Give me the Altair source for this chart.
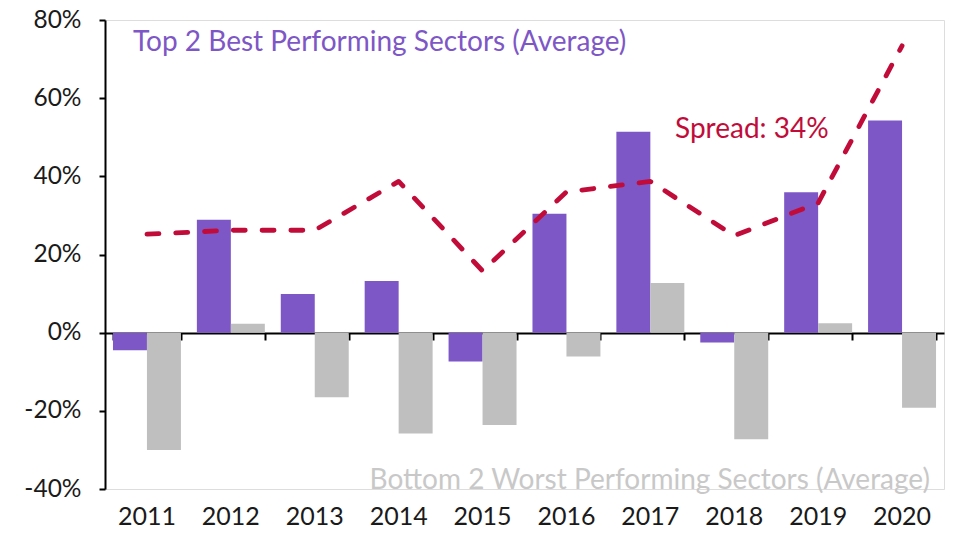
import altair as alt
import pandas as pd

years = ["2011", "2012", "2013", "2014", "2015", "2016", "2017", "2018", "2019", "2020"]
top2 = [-4.5, 28.9, 9.9, 13.2, -7.4, 30.4, 51.4, -2.5, 35.9, 54.3]
bottom2 = [-30.0, 2.3, -16.5, -25.8, -23.6, -6.1, 12.7, -27.3, 2.4, -19.2]
spread = [25.2, 26.2, 26.2, 38.7, 15.8, 36.0, 38.7, 24.8, 33.2, 73.4]

series_names = ["Top 2", "Bottom 2"]
PURPLE = "#7E57C6"
GRAY = "#BEBFBE"
CRIMSON = "#C10C3A"
FONT = "Lato"

bars_df = pd.DataFrame(
    [{"year": y, "series": series_names[0], "value": v} for y, v in zip(years, top2)]
    + [{"year": y, "series": series_names[1], "value": v} for y, v in zip(years, bottom2)]
)
line_df = pd.DataFrame({"year": years, "spread": spread})

PLOT_H = 469
y_scale = alt.Scale(domain=[-40, 80], nice=False, zero=False)
y_axis = alt.Axis(
    values=[-40, -20, 0, 20, 40, 60, 80],
    labelExpr="datum.value + '%'",
    grid=False,
    domain=True,
    domainColor="#000000",
    domainWidth=2,
    ticks=True,
    tickColor="#000000",
    tickWidth=2,
    tickSize=6,
    labelPadding=18,
    labelFont=FONT,
    labelFontSize=24.5,
    labelColor="#1a1a1a",
    title=None,
)
x_scale = alt.Scale(paddingInner=0.19, paddingOuter=0.095)

bars = alt.Chart(bars_df).mark_bar().encode(
    x=alt.X(
        "year:N",
        sort=years,
        scale=x_scale,
        axis=alt.Axis(
            orient="bottom",
            domain=False,
            ticks=False,
            labelAngle=0,
            labelPadding=15,
            labelFont=FONT,
            labelFontSize=25,
            labelColor="#1a1a1a",
            title=None,
        ),
    ),
    xOffset=alt.XOffset("series:N", sort=series_names, scale=alt.Scale(paddingInner=0, paddingOuter=0)),
    y=alt.Y("value:Q", scale=y_scale, axis=y_axis),
    color=alt.Color(
        "series:N",
        scale=alt.Scale(domain=series_names, range=[PURPLE, GRAY]),
        legend=None,
    ),
)

line = alt.Chart(line_df).mark_line(
    color=CRIMSON, strokeWidth=4.8, strokeDash=[12, 16.8], strokeCap="round", strokeJoin="round"
).encode(
    x=alt.X(
        "year:N",
        sort=years,
        scale=x_scale,
        axis=alt.Axis(
            orient="bottom",
            offset=-round(PLOT_H * 40 / 120),
            labels=False,
            domain=True,
            domainColor="#000000",
            domainWidth=2,
            ticks=True,
            tickBand="extent",
            tickColor="#000000",
            tickWidth=2,
            tickSize=7,
            grid=False,
            title=None,
        ),
    ),
    y=alt.Y("spread:Q", scale=y_scale, axis=y_axis),
)

top_label = alt.Chart(pd.DataFrame({"t": ["Top 2 Best Performing Sectors (Average)"]})).mark_text(
    align="left", baseline="alphabetic", font=FONT, fontSize=28, color=PURPLE
).encode(x=alt.value(28), y=alt.datum(72.1), text="t:N")

spread_label = alt.Chart(pd.DataFrame({"t": ["Spread: 34%"]})).mark_text(
    align="left", baseline="alphabetic", font=FONT, fontSize=28, color=CRIMSON
).encode(x=alt.value(570), y=alt.datum(49.8), text="t:N")

bottom_label = alt.Chart(pd.DataFrame({"t": ["Bottom 2 Worst Performing Sectors (Average)"]})).mark_text(
    align="right", baseline="alphabetic", font=FONT, fontSize=28, color="#C8C8C8"
).encode(x=alt.value(825), y=alt.datum(-40.0), text="t:N")

chart = (
    alt.layer(bars, line, top_label, spread_label, bottom_label)
    .resolve_axis(x="independent")
    .properties(
        width=839,
        height=PLOT_H,
        padding={"left": 97, "top": 12, "right": 1, "bottom": 51},
        autosize="none",
    )
    .configure_view(stroke=None)
    .configure(background="white")
)

chart.save("out.html", embed_options={"renderer": "svg", "actions": False})
